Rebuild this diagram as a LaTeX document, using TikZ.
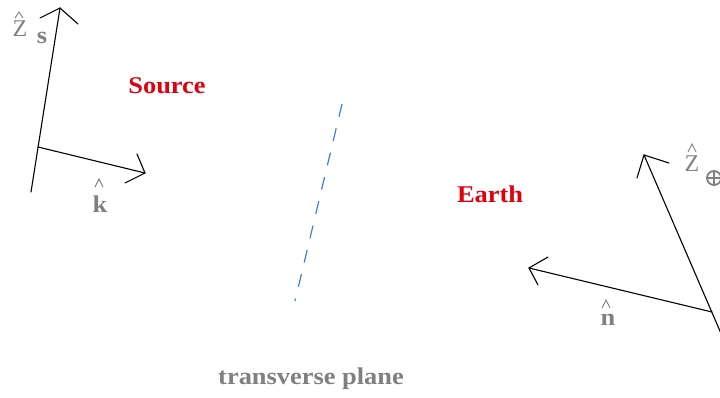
\documentclass[tikz,border=0pt]{standalone}
\usepackage{fontspec}
\setmainfont{Liberation Serif}
\definecolor{lblgray}{HTML}{808080}
\definecolor{lblred}{HTML}{E00010}
\definecolor{planeblue}{HTML}{3C82D2}
\newcommand{\wide}[1]{\scalebox{1.1}[1]{#1}}
\begin{document}
\begin{tikzpicture}[x=1pt,y=-1pt,
  axisline/.style={line width=1.1pt, black, line cap=round},
  hatmark/.style={line width=0.9pt, lblgray},
  boldlbl/.style={inner sep=0pt, anchor=base, font=\fontsize{24}{24}\selectfont\bfseries},
  zlbl/.style={inner sep=0pt, anchor=base, text=lblgray, font=\fontsize{24}{24}\selectfont},
  sublbl/.style={boldlbl, text=lblgray},
  titlelbl/.style={boldlbl, text=lblred}]
\useasboundingbox (0,0) rectangle (720,398);
\fill[white] (0,0) rectangle (720,398);
% Source axes
\coordinate (zsb) at (31,192);
\coordinate (zst) at (60,8);
\coordinate (ko) at (38,147);
\coordinate (kt) at (145,173);
\draw[axisline] (zsb) -- (zst);
\draw[axisline] (40,18) -- (zst) -- (78,24);
\draw[axisline] (ko) -- (kt);
\draw[axisline] (137,154) -- (kt) -- (125,183);
% Earth axes
\begin{scope}
\clip (0,0) rectangle (720,398);
\coordinate (zet) at (644,155);
\coordinate (zeb) at (726,345);
\coordinate (no) at (712,312);
\coordinate (nt) at (529,268);
\draw[axisline] (zeb) -- (zet);
\draw[axisline] (669,163) -- (zet) -- (637,178);
\draw[axisline] (no) -- (nt);
\draw[axisline] (548,257) -- (nt) -- (538,285);
% oplus
\draw[lblgray, line width=1.8pt] (714,178) circle (7);
\draw[lblgray, line width=1.8pt] (707,178) -- (721,178) (714,171) -- (714,185);
\end{scope}
% transverse plane
\coordinate (pt) at (342,104);
\coordinate (pb) at (295,301);
\draw[planeblue, line width=1.2pt, dash pattern=on 13pt off 12pt] (pt) -- (pb);
% labels
\node[titlelbl] (src) at (167,94) {\wide{Source}};
\node[titlelbl] (earth) at (490,203) {\wide{Earth}};
\node[sublbl] (tp) at (311,384) {\wide{transverse plane}};
\node[zlbl] (zs) at (20,37) {Z};
\node[sublbl] (s) at (42,44) {\wide{s}};
\draw[hatmark] (15,18) -- (19,12) -- (23,18);
\node[sublbl] (k) at (100,212) {\wide{k}};
\draw[hatmark] (95,187) -- (99,179) -- (103,187);
\node[zlbl] (ze) at (692,172) {Z};
\draw[hatmark] (688,152) -- (692,144) -- (696,152);
\node[sublbl] (n) at (608,325) {\wide{n}};
\draw[hatmark] (602,308) -- (606,300) -- (610,308);
\end{tikzpicture}
\end{document}
